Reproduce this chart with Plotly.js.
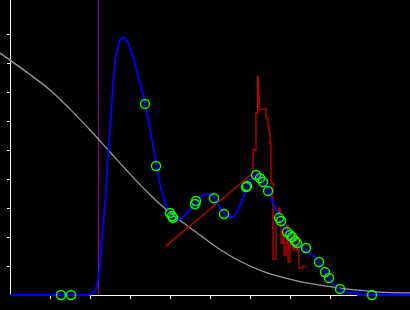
<!DOCTYPE html>
<html>
<head>
<meta charset="utf-8">
<script src="https://cdn.plot.ly/plotly-3.0.1.min.js"></script>
<style>html,body{margin:0;padding:0;background:#000;}#chart{width:410px;height:310px;}</style>
</head>
<body>
<div id="chart"></div>
<script>
// Gray decreasing curve
var grayX = [-2.5, 0, 5, 10, 15, 20, 25, 30, 35, 40, 45, 48.75, 52.5, 56.25, 60, 63.75, 67.5, 72.5, 77.5, 82.5, 87.5, 92.5, 100];
var grayY = [83.4, 81.0, 76.0, 70.7, 64.1, 56.9, 49.3, 41.7, 34.6, 28.4, 23.2, 19.4, 15.7, 12.6, 10.0, 7.9, 6.3, 4.6, 3.4, 2.4, 1.6, 1.0, 0.7];

// Blue fitted curve
var blueX = [0, 19.5, 20.5, 21.25, 21.75, 22.25, 22.5, 23, 23.5, 24, 24.25, 24.5, 25, 25.5, 26, 26.5, 27, 27.5, 28, 28.5, 29.25, 30, 30.75, 31.5, 32.25, 33, 33.75, 34.5, 35, 35.5, 36, 36.5, 37.25, 38.25, 39.25, 40, 41, 42, 43, 44.25, 45.75, 47.5, 48.75, 50, 51, 52, 52.75, 53.75, 54.75, 55.75, 57, 58.25, 59.25, 60, 60.75, 61.5, 62.25, 63.25, 64.5, 65.5, 66.5, 67.25, 68.25, 69.25, 70.25, 71.5, 72.5, 73.75, 75, 76.25, 77.25, 78, 78.75, 79.75, 80.75, 81.75, 82.75, 83.75, 86.75, 87, 100];
var blueY = [0, 0, 0.3, 1.7, 3.4, 6.9, 10.7, 18.3, 25.9, 36.2, 43.1, 49.0, 57.6, 67.2, 76.9, 82.8, 86.2, 88.3, 89.0, 88.8, 87.6, 85.2, 82.1, 78.6, 74.8, 70.7, 65.9, 61.4, 57.6, 53.4, 49.3, 45.2, 39.7, 34.1, 30.0, 27.9, 26.2, 25.9, 26.6, 28.3, 31.0, 33.8, 34.8, 34.8, 33.4, 31.4, 29.7, 27.6, 26.9, 26.9, 29.3, 33.8, 37.2, 39.7, 41.0, 41.4, 40.7, 39.0, 35.9, 32.8, 29.3, 26.6, 24.1, 21.7, 19.7, 17.9, 16.9, 15.9, 14.5, 12.8, 11.4, 9.7, 7.9, 5.9, 4.1, 2.8, 1.7, 1.0, 0.7, 0, 0];

// Red measured curve
var redX = [38.75, 60.5, 60.75, 60.75, 61.5, 61.5, 61.9, 61.9, 62.1, 62.1, 62.25, 62.25, 64, 64, 64.5, 64.5, 64.75, 64.75, 65, 65, 65.25, 65.25, 65.75, 65.75, 66.5, 66.5, 67.25, 67.25, 67.5, 67.5, 67.75, 67.75, 68.25, 68.25, 68.5, 68.5, 69, 69, 69.25, 69.25, 69.5, 69.5, 70, 70, 70.5, 70.5, 70.75, 70.75, 71, 71, 71.5, 71.5, 71.75, 71.75, 72.25, 72.25, 73.25, 73.25, 73.75];
var redY = [16.6, 42.1, 42.1, 50.0, 50.0, 62.8, 62.8, 75.2, 75.2, 69.7, 69.7, 64.1, 64.1, 61.0, 61.0, 58.3, 58.3, 55.9, 55.9, 52.4, 52.4, 38.6, 38.6, 12.4, 12.4, 26.9, 26.9, 30.0, 30.0, 25.2, 25.2, 17.9, 17.9, 21.7, 21.7, 13.8, 13.8, 17.9, 17.9, 24.1, 24.1, 11.4, 11.4, 17.9, 17.9, 21.7, 21.7, 15.5, 15.5, 19.7, 19.7, 15.5, 15.5, 20.0, 20.0, 9.3, 9.3, 10.0, 10.0];

// Green open-circle points
var ptX = [12.75, 15.25, 33.75, 36.5, 40, 40.5, 40.75, 46.25, 46.5, 51, 53.5, 59, 59.25, 61.5, 62.5, 63.25, 64.5, 67.25, 67.75, 69.25, 70, 70.5, 71.25, 71.75, 74, 77.25, 78.75, 79.75, 82.5, 90.5];
var ptY = [0, 0, 65.9, 44.5, 28.3, 27.2, 26.6, 31.4, 32.4, 33.4, 27.9, 37.2, 37.6, 41.4, 40.3, 39.0, 35.9, 26.6, 25.5, 21.7, 20.7, 20.0, 18.6, 17.9, 16.2, 11.4, 7.9, 5.9, 2.1, 0];

// Purple vertical marker
var vlineX = [22.125, 22.125];
var vlineY = [0, 101.7];

// Tick positions
var xTicks = [10, 20, 30, 40, 50, 60, 70, 80];
var yTicks = [10, 20, 30, 40, 50, 60, 70, 80, 90];

var W = 410, H = 310;
var x0px = 10, y0px = 295, pxPerX = 4, pxPerY = 2.9;

var traces = [
  {x: [], y: [], type: 'scatter', mode: 'lines', xaxis: 'x', yaxis: 'y', showlegend: false, hoverinfo: 'skip'},
  {x: vlineX, y: vlineY, type: 'scatter', mode: 'lines', xaxis: 'x2', yaxis: 'y2',
   line: {color: '#8a008a', width: 1.2}, showlegend: false, hoverinfo: 'skip'},
  {x: grayX, y: grayY, type: 'scatter', mode: 'lines', xaxis: 'x2', yaxis: 'y2',
   line: {color: '#9a9a9a', width: 1.3, shape: 'spline', smoothing: 1}, showlegend: false, hoverinfo: 'skip'},
  {x: redX, y: redY, type: 'scatter', mode: 'lines', xaxis: 'x2', yaxis: 'y2',
   line: {color: '#c80000', width: 1.3}, showlegend: false, hoverinfo: 'skip'},
  {x: blueX, y: blueY, type: 'scatter', mode: 'lines', xaxis: 'x2', yaxis: 'y2',
   line: {color: '#0000ff', width: 1.8}, showlegend: false, hoverinfo: 'skip'},
  {x: ptX, y: ptY, type: 'scatter', mode: 'markers', xaxis: 'x2', yaxis: 'y2', cliponaxis: false,
   marker: {symbol: 'circle-open', size: 9, color: '#00ff00', line: {width: 1.5, color: '#00ff00'}},
   showlegend: false, hoverinfo: 'skip'}
];

var axCommon = {showgrid: false, zeroline: false, showticklabels: false, showline: true,
  linecolor: '#ffffff', linewidth: 1, ticks: 'outside', ticklen: 3, tickwidth: 1, tickcolor: '#ffffff',
  tickmode: 'array', fixedrange: true};

var layout = {
  width: W, height: H,
  margin: {l: 0, r: 0, t: 0, b: 0, pad: 0},
  paper_bgcolor: '#000000',
  plot_bgcolor: 'rgba(0,0,0,0)',
  showlegend: false,
  xaxis: Object.assign({}, axCommon, {domain: [x0px / W, 1], range: [0, (W - x0px) / pxPerX], tickvals: xTicks, anchor: 'y'}),
  yaxis: Object.assign({}, axCommon, {domain: [(H - y0px) / H, 1], range: [0, y0px / pxPerY], tickvals: yTicks, anchor: 'free', position: x0px / W}),
  xaxis2: {domain: [0, 1], range: [-x0px / pxPerX, (W - x0px) / pxPerX], visible: false, anchor: 'y2', fixedrange: true},
  yaxis2: {domain: [0, 1], range: [-(H - y0px) / pxPerY, y0px / pxPerY], visible: false, anchor: 'x2', fixedrange: true}
};

Plotly.newPlot('chart', traces, layout, {displayModeBar: false, staticPlot: true});
</script>
</body>
</html>
